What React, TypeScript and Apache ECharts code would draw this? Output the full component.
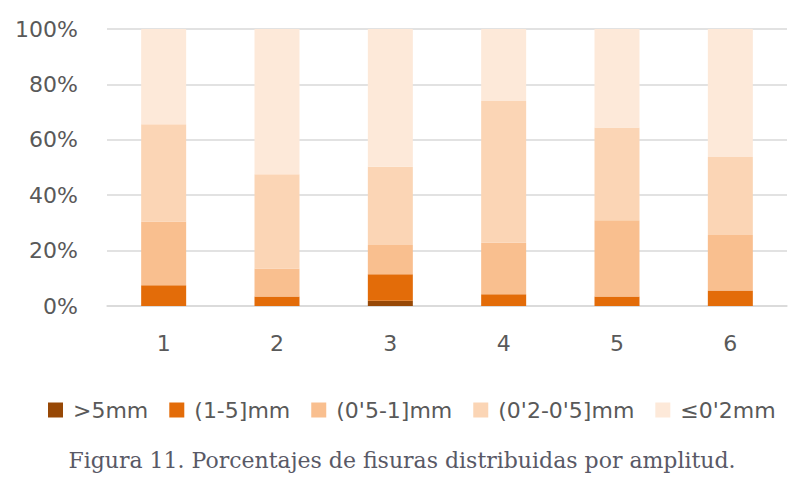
import React, { useEffect, useRef } from "react";
import * as echarts from "echarts";

const categories = ["1", "2", "3", "4", "5", "6"];
const seriesNames = [">5mm", "(1-5]mm", "(0'5-1]mm", "(0'2-0'5]mm", "≤0'2mm"];
const over5 = [0, 0, 1.9, 0, 0, 0];
const from1to5 = [7.5, 3.4, 9.6, 4.2, 3.4, 5.6];
const from05to1 = [23.0, 10.1, 10.5, 18.6, 27.6, 20.0];
const from02to05 = [35.1, 34.1, 28.3, 51.2, 33.4, 28.2];
const upTo02 = [34.4, 52.4, 49.7, 26.0, 35.6, 46.2];
const yTicks = [0, 20, 40, 60, 80, 100];
const colors = ["#974806", "#E36C09", "#F9BF8F", "#FBD5B5", "#FDE9D9"];
const caption = "Figura 11. Porcentajes de fisuras distribuidas por amplitud.";

export default function App() {
  const ref = useRef<HTMLDivElement>(null);
  useEffect(() => {
    if (!ref.current) return;
    const chart = echarts.init(ref.current, null, { renderer: "svg" });
    const data = [over5, from1to5, from05to1, from02to05, upTo02];
    chart.setOption({
      animation: false,
      color: colors,
      title: {
        text: caption,
        left: "center",
        top: 449,
        padding: 0,
        textStyle: {
          fontFamily: "DejaVu Serif",
          fontWeight: "normal",
          fontSize: 22,
          color: "#595966",
        },
      },
      legend: {
        data: seriesNames,
        top: 399,
        left: 48,
        padding: 0,
        itemWidth: 15,
        itemHeight: 15,
        itemGap: 21,
        icon: "rect",
        textStyle: {
          fontFamily: "DejaVu Sans",
          fontSize: 22,
          color: "#595959",
          padding: [0, 0, 0, 5],
        },
      },
      grid: { left: 107, right: 17, top: 29, bottom: 188, containLabel: false },
      xAxis: {
        type: "category",
        data: categories,
        axisLine: { lineStyle: { color: "#d9d9d9", width: 1.5 } },
        axisTick: { show: false },
        axisLabel: { fontFamily: "DejaVu Sans", fontSize: 22, color: "#595959", margin: 26 },
      },
      yAxis: {
        type: "value",
        min: yTicks[0],
        max: yTicks[yTicks.length - 1],
        interval: 20,
        axisLine: { show: false },
        axisTick: { show: false },
        splitLine: { lineStyle: { color: "#d9d9d9", width: 1.5 } },
        axisLabel: {
          fontFamily: "DejaVu Sans",
          fontSize: 22,
          color: "#595959",
          margin: 29,
          formatter: (v: number) => `${v}%`,
        },
      },
      series: seriesNames.map((name, i) => ({
        name,
        type: "bar",
        stack: "total",
        barWidth: 45,
        data: data[i],
        itemStyle: { color: colors[i] },
      })),
    });
    return () => chart.dispose();
  }, []);
  return (
    <div
      ref={ref}
      style={{ position: "fixed", left: 0, top: 0, width: 804, height: 494, background: "#fff" }}
    />
  );
}
